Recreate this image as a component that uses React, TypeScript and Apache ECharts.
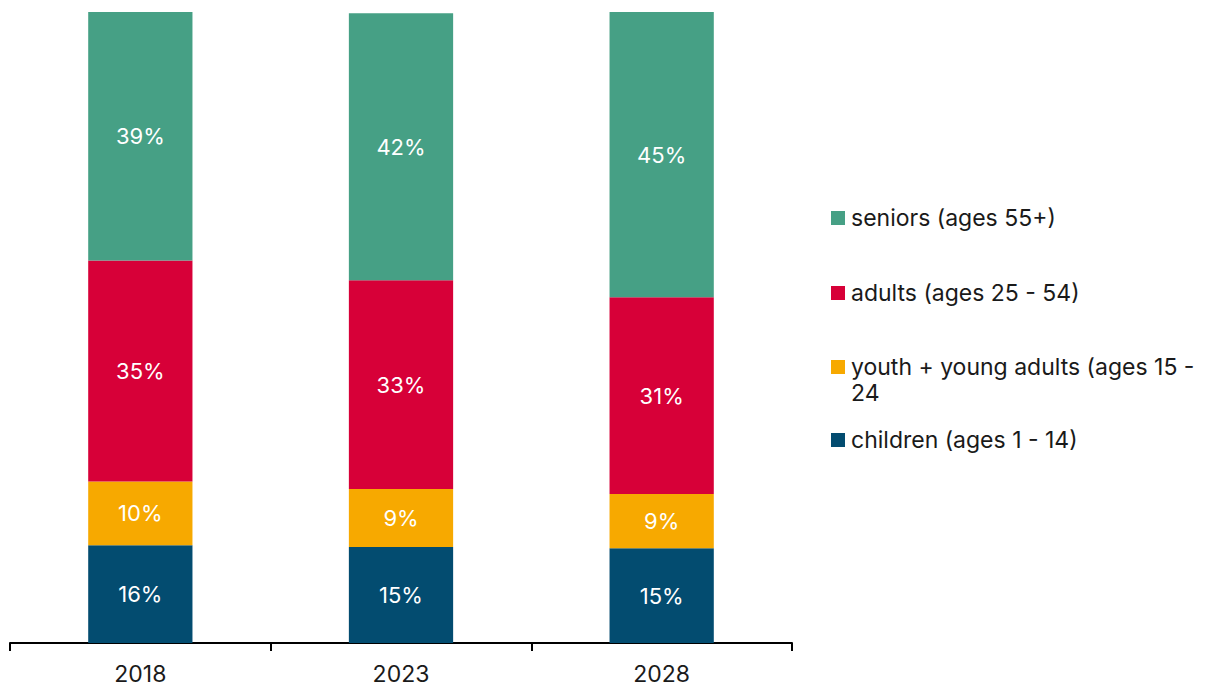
import React, { useEffect, useRef } from "react";
import * as echarts from "echarts";

const years = ["2018", "2023", "2028"];
const seriesNames = [
  "children (ages 1 - 14)",
  "youth + young adults (ages 15 - 24",
  "adults (ages 25 - 54)",
  "seniors (ages 55+)",
];
const legendLines = [
  ["children (ages 1 - 14)"],
  ["youth + young adults (ages 15 -", "24"],
  ["adults (ages 25 - 54)"],
  ["seniors (ages 55+)"],
];
const children = [15.5, 15.2, 15.0];
const youth = [10.1, 9.2, 8.6];
const adults = [35.0, 33.1, 31.2];
const seniors = [39.4, 42.3, 45.2];
const colors = ["#034c70", "#f7a900", "#d70038", "#46a085"];

const FONT = "Inter, 'Noto Sans', sans-serif";

export default function App() {
  const ref = useRef<HTMLDivElement>(null);
  useEffect(() => {
    if (!ref.current) return;
    const chart = echarts.init(ref.current, null, { renderer: "svg" });
    const data = [children, youth, adults, seniors];
    const legendCenters = [440, 367, 293, 218];
    const graphic: any[] = [];
    for (let i = 0; i < seriesNames.length; i++) {
      const cy = legendCenters[i];
      graphic.push({
        type: "rect",
        shape: { x: 831, y: cy - 7, width: 14, height: 14 },
        style: { fill: colors[i] },
      });
      legendLines[i].forEach((line, j) => {
        graphic.push({
          type: "text",
          x: 851,
          y: cy + j * 26,
          style: {
            text: line,
            fill: "#1a1a1a",
            font: `23px ${FONT}`,
            verticalAlign: "middle",
            align: "left",
          },
        });
      });
    }
    chart.setOption({
      animation: false,
      grid: { left: 10, right: 430, top: 12, bottom: 44, containLabel: false },
      xAxis: {
        type: "category",
        data: years,
        axisLine: { lineStyle: { color: "#000", width: 2 } },
        axisTick: { show: true, length: 8, lineStyle: { color: "#000", width: 2 } },
        axisLabel: { color: "#1a1a1a", fontSize: 23, fontFamily: FONT, margin: 19 },
      },
      yAxis: { type: "value", min: 0, max: 100, show: false, splitLine: { show: false } },
      series: seriesNames.map((name, i) => ({
        name,
        type: "bar",
        stack: "total",
        barWidth: "40%",
        data: data[i],
        itemStyle: { color: colors[i] },
        label: {
          show: true,
          position: "inside",
          color: "#fff",
          fontSize: 22,
          fontFamily: FONT,
          formatter: (p: any) => `${Math.round(p.value)}%`,
        },
      })),
      graphic,
    });
    return () => chart.dispose();
  }, []);
  return <div ref={ref} style={{ width: 1222, height: 687, position: "absolute", left: 0, top: 0 }} />;
}
